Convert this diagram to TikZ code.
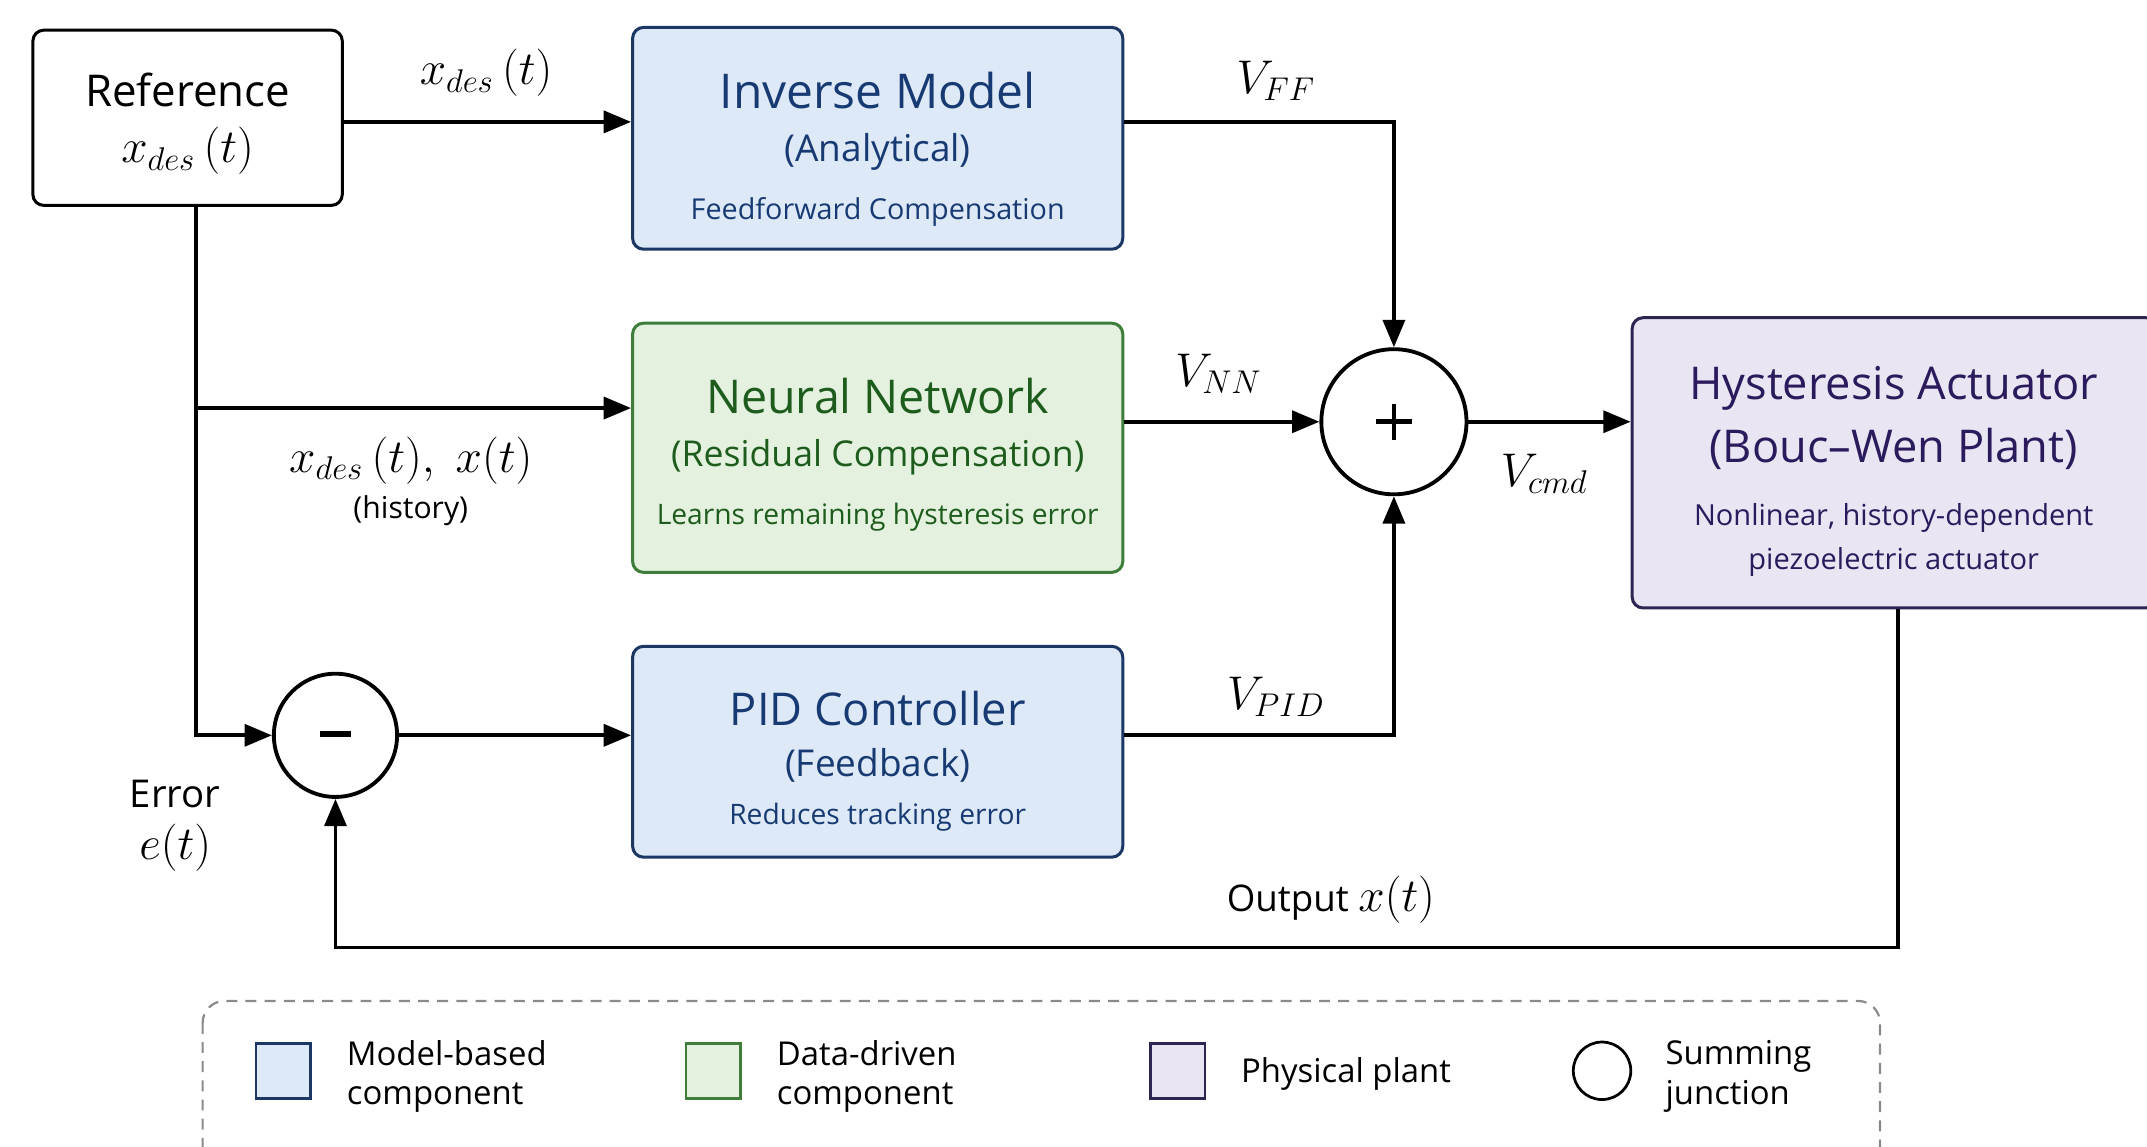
\documentclass[tikz,border=0pt]{standalone}
\usepackage{fontspec}
\setmainfont{Open Sans}
\usetikzlibrary{arrows.meta,calc}
\definecolor{mbfill}{HTML}{DDE9F6}
\definecolor{mbdraw}{HTML}{1C3764}
\definecolor{mbtext}{HTML}{173A73}
\definecolor{ddfill}{HTML}{E3F1DE}
\definecolor{dddraw}{HTML}{3E7D3A}
\definecolor{ddtext}{HTML}{1D5C1D}
\definecolor{ppfill}{HTML}{E9E5F3}
\definecolor{ppdraw}{HTML}{2E2552}
\definecolor{pptext}{HTML}{2B1A5C}
\definecolor{leggray}{HTML}{8A8A8A}
\newcommand\fsz[1]{\fontsize{#1}{#1}\selectfont}
\tikzset{
  blockbox/.style={draw, rounded corners=4pt, line width=1.1pt, inner sep=0pt},
  mbbox/.style={blockbox, fill=mbfill, draw=mbdraw},
  ddbox/.style={blockbox, fill=ddfill, draw=dddraw},
  ppbox/.style={blockbox, fill=ppfill, draw=ppdraw},
  txt/.style={anchor=base, inner sep=0pt},
  junction/.style={circle, draw, line width=1.4pt, fill=white, inner sep=0pt},
  conn/.style={line width=1.4pt},
  signmark/.style={line width=1.7pt},
  legtxt/.style={anchor=west, align=left, inner sep=0pt, font=\fsz{12}\linespread{1.2}\selectfont},
}
\begin{document}
\begin{tikzpicture}[x=0.5pt,y=-0.5pt, >={Triangle[length=10pt,width=8pt]}]
\useasboundingbox (0,0) rectangle (1568,837);
\fill[white] (0,0) rectangle (1568,837);

% helper coordinates
\coordinate (yff) at (0,89);
\coordinate (ynn) at (0,298);
\coordinate (tx)  at (143,0);
\coordinate (fbx) at (1386,0);
\coordinate (yfb) at (0,692);

% blocks
\node[blockbox, fill=white, draw=black, minimum width=113pt, minimum height=64pt] (ref) at (137,86) {};
\node[txt, font=\fsz{16}] (reft) at (137,78) {Reference};
\node[txt, font=\fsz{17}] (refm) at (137,119) {$x_{des}\,(t)$};

\node[mbbox, minimum width=179pt, minimum height=81pt] (inv) at (641,101) {};
\node[txt, text=mbtext, font=\fsz{17.5}] (invt1) at (641,79) {Inverse Model};
\node[txt, text=mbtext, font=\fsz{13.5}] (invt2) at (641,118) {(Analytical)};
\node[txt, text=mbtext, font=\fsz{10.5}] (invt3) at (641,160) {Feedforward Compensation};

\node[ddbox, minimum width=179pt, minimum height=91pt] (nn) at (641,327) {};
\node[txt, text=ddtext, font=\fsz{17}] (nnt1) at (641,302) {Neural Network};
\node[txt, text=ddtext, font=\fsz{13}] (nnt2) at (641,341) {(Residual Compensation)};
\node[txt, text=ddtext, font=\fsz{10.3}] (nnt3) at (641,383) {Learns remaining hysteresis error};

\node[mbbox, minimum width=179pt, minimum height=77pt] (pid) at (641,549) {};
\node[txt, text=mbtext, font=\fsz{16.5}] (pidt1) at (641,530) {PID Controller};
\node[txt, text=mbtext, font=\fsz{13.5}] (pidt2) at (641,567) {(Feedback)};
\node[txt, text=mbtext, font=\fsz{10.3}] (pidt3) at (641,602) {Reduces tracking error};

\node[ppbox, minimum width=191.5pt, minimum height=106pt] (plant) at (1383.5,338) {};
\node[txt, text=pptext, font=\fsz{16.5}] (pt1) at (1383,292) {Hysteresis Actuator};
\node[txt, text=pptext, font=\fsz{16.5}] (pt2) at (1383,338) {(Bouc--Wen Plant)};
\node[txt, text=pptext, font=\fsz{10.6}] (pt3) at (1383,384) {Nonlinear, history-dependent};
\node[txt, text=pptext, font=\fsz{10.6}] (pt4) at (1383,416) {piezoelectric actuator};

% junctions
\node[junction, minimum size=53pt] (sum) at (1018,308) {};
\draw[signmark] ($(sum.center)+(-13,0)$) -- ($(sum.center)+(13,0)$)
                ($(sum.center)+(0,-13)$) -- ($(sum.center)+(0,13)$);
\node[junction, minimum size=45pt] (diff) at (245,537) {};
\draw[signmark, line width=2.1pt] ($(diff.center)+(-11,-1)$) -- ($(diff.center)+(11,-1)$);

% connectors
\draw[conn,->] (ref.east |- yff) -- (inv.west |- yff);
\draw[conn,->] (inv.east |- yff) -| (sum.north);
\draw[conn,->] (ref.south -| tx) |- (diff.west);
\draw[conn,->] (tx |- ynn) -- (nn.west |- ynn);
\draw[conn,->] (nn.east |- sum.west) -- (sum.west);
\draw[conn,->] (diff.east) -- (pid.west |- diff.east);
\draw[conn,->] (pid.east |- diff.east) -| (sum.south);
\draw[conn,->] (sum.east) -- (plant.west |- sum.east);
\draw[conn,->] (plant.south -| fbx) -- (fbx |- yfb) -| (diff.south);

% signal labels
\node[txt, font=\fsz{17}] (lxdes) at (355,62) {$x_{des}\,(t)$};
\node[txt, font=\fsz{16.5}] (lvff) at (932,68) {$V_{FF}$};
\node[txt, font=\fsz{16.5}] (lvnn) at (890,282) {$V_{NN}$};
\node[txt, font=\fsz{16.5}] (lvpid) at (932,518) {$V_{PID}$};
\node[txt, font=\fsz{16.5}] (lvcmd) at (1128,355) {$V_{cmd}$};
\node[txt, font=\fsz{17}] (lhist1) at (300,345) {$x_{des}\,(t),\; x(t)$};
\node[txt, font=\fsz{11}] (lhist2) at (300,379) {(history)};
\node[txt, font=\fsz{14}] (lerr1) at (128,590) {Error};
\node[txt, font=\fsz{17}] (lerr2) at (128,628) {$e(t)$};
\node[txt, font=\fsz{13.4}] (lout) at (972,666) {Output \fsz{17}$x(t)$};

% legend
\draw[leggray, dashed, dash pattern=on 4pt off 3pt, line width=0.8pt, rounded corners=8pt] (148,731) rectangle (1373,860);
\node[draw=mbdraw, fill=mbfill, line width=1pt, minimum size=20pt, inner sep=0pt] (lg1) at (207,782) {};
\node[legtxt] (lg1t) at (253,786) {Model-based\\component};
\node[draw=dddraw, fill=ddfill, line width=1pt, minimum size=20pt, inner sep=0pt] (lg2) at (521,782) {};
\node[legtxt] (lg2t) at (567,786) {Data-driven\\component};
\node[draw=ppdraw, fill=ppfill, line width=1pt, minimum size=20pt, inner sep=0pt] (lg3) at (860,782) {};
\node[legtxt] (lg3t) at (906,784) {Physical plant};
\node[circle, draw, line width=1pt, minimum size=21pt, inner sep=0pt] (lg4) at (1170,782) {};
\node[legtxt] (lg4t) at (1216,786) {Summing\\junction};
\end{tikzpicture}
\end{document}
